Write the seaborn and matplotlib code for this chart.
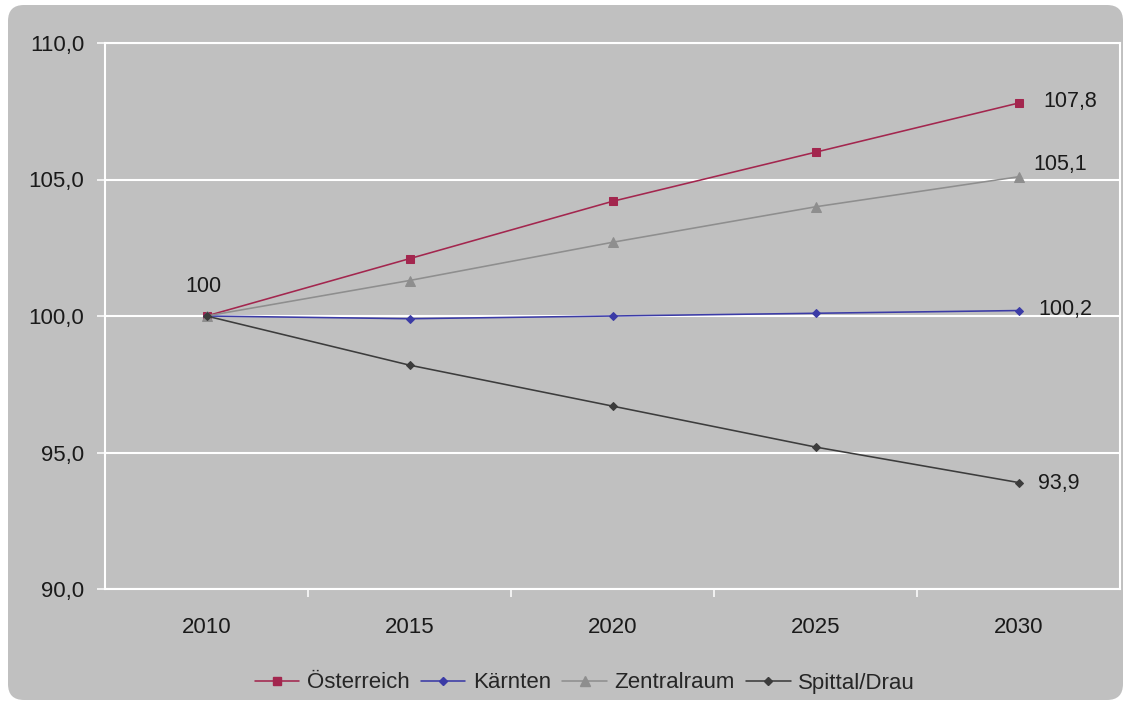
import matplotlib
matplotlib.use("Agg")
import matplotlib.pyplot as plt
from matplotlib.patches import FancyBboxPatch
from matplotlib.transforms import IdentityTransform
from matplotlib.lines import Line2D
import seaborn as sns
import pandas as pd

# Population projection index (2010 = 100)
years = ["2010", "2015", "2020", "2025", "2030"]
regions = ["Österreich", "Kärnten", "Zentralraum", "Spittal/Drau"]
oesterreich = [100.0, 102.1, 104.2, 106.0, 107.8]
kaernten = [100.0, 99.9, 100.0, 100.1, 100.2]
zentralraum = [100.0, 101.3, 102.7, 104.0, 105.1]
spittal = [100.0, 98.2, 96.7, 95.2, 93.9]
end_labels = ["107,8", "100,2", "105,1", "93,9"]
start_label = "100"
y_ticks = [90, 95, 100, 105, 110]
y_tick_labels = ["90,0", "95,0", "100,0", "105,0", "110,0"]

series = [oesterreich, kaernten, zentralraum, spittal]
colors = ["#A3264E", "#3B3BA6", "#8E8E8E", "#3C3C3C"]
markers = ["s", "D", "^", "D"]
msizes = [5.5, 4.5, 6.5, 3.8]

rows = []
for name, vals in zip(regions, series):
    for i, v in enumerate(vals):
        rows.append({"pos": i, "year": years[i], "region": name, "value": v})
df = pd.DataFrame(rows)

sns.set_theme(style="white")
plt.rcParams["font.family"] = ["Liberation Sans", "DejaVu Sans"]

W, H = 1127, 701
fig = plt.figure(figsize=(W / 100, H / 100), dpi=100)
fig.patch.set_facecolor("white")

# Rounded grey panel behind the chart
panel = FancyBboxPatch((8, 1), W - 12, H - 6,
                       boxstyle="round,pad=0,rounding_size=16",
                       transform=IdentityTransform(), facecolor="#C0C0C0",
                       edgecolor="none", zorder=-10)
fig.patches.append(panel)

ax = fig.add_axes([105 / W, 1 - 589 / H, (1120 - 105) / W, (589 - 43) / H])
ax.set_zorder(1)
ax.set_facecolor("#C0C0C0")

palette = dict(zip(regions, colors))
sns.lineplot(data=df, x="pos", y="value", hue="region", style="region",
             hue_order=regions, style_order=regions, palette=palette,
             markers=dict(zip(regions, markers)), dashes=False,
             linewidth=1.15, ax=ax, legend=False, zorder=3)

# marker sizes per series
for line, ms, c in zip(ax.get_lines(), msizes, colors):
    line.set_markersize(ms)
    line.set_markeredgecolor(c)
    line.set_markerfacecolor(c)

ax.set_xlim(-0.5, 4.5)
ax.set_ylim(90, 110)
ax.set_yticks(y_ticks)
ax.set_yticklabels(y_tick_labels)
ax.set_xticks(range(len(years)))
ax.set_xticklabels(years)
ax.set_xticks([0.5, 1.5, 2.5, 3.5], minor=True)
ax.tick_params(axis="x", which="major", length=0, pad=20, labelsize=16,
               labelcolor="#1a1a1a")
ax.tick_params(axis="x", which="minor", length=5.5, width=1.1, color="white",
               direction="out", bottom=True)
ax.tick_params(axis="y", length=6, width=1.1, color="white", pad=9,
               labelsize=16, labelcolor="#1a1a1a", left=True)
ax.set_xlabel("")
ax.set_ylabel("")
ax.grid(axis="y", color="white", linewidth=1.5)
ax.grid(axis="x", visible=False)
for sp in ax.spines.values():
    sp.set_color("white")
    sp.set_linewidth(1.5)

# value labels at the end points
end_text = dict(zip(regions, end_labels))
offsets = {"Österreich": (18, 1), "Kärnten": (14, 1),
           "Zentralraum": (11, 9), "Spittal/Drau": (14, -1)}
for name, vals in zip(regions, series):
    dx, dy = offsets[name]
    ax.annotate(end_text[name], (4, vals[-1]), xytext=(dx, dy),
                textcoords="offset points", ha="left", va="center",
                fontsize=15.5, color="#1a1a1a")
ax.annotate(start_label, (0, oesterreich[0]), xytext=(-2, 21),
            textcoords="offset points", ha="center", va="center",
            fontsize=15.5, color="#1a1a1a")

handles = [Line2D([0], [0], color=c, marker=m, markersize=ms, linewidth=1.15)
           for c, m, ms in zip(colors, markers, msizes)]
fig.legend(handles, regions, loc="center", bbox_to_anchor=(585 / W, 1 - 683 / H),
           ncol=4, frameon=False, fontsize=16, handlelength=2.0,
           handletextpad=0.35, columnspacing=0.5)

fig.savefig("out.png", dpi=100, facecolor="white")
